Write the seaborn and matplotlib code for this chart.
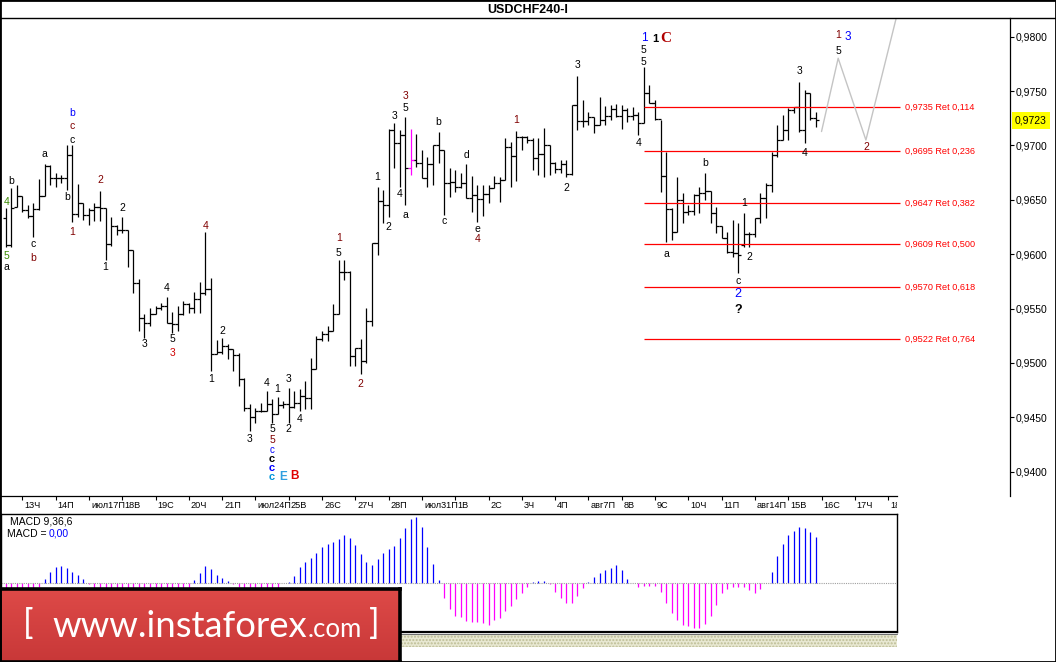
import numpy as np
import matplotlib
matplotlib.use('Agg')
import matplotlib.pyplot as plt
import matplotlib.transforms as mtransforms
from matplotlib.patches import Rectangle
from matplotlib.lines import Line2D
from matplotlib.colors import LinearSegmentedColormap
import seaborn as sns

sns.set_theme(style='white')
plt.rcParams['font.family'] = ['Liberation Sans', 'DejaVu Sans']
plt.rcParams['axes.unicode_minus'] = False

# ---------------- data ----------------
high = [
0.96425, 0.96609, 0.96636, 0.96535, 0.96452, 0.96471, 0.96692, 0.96830, 0.96820, 0.96747,
0.96728, 0.97004, 0.97004, 0.96646, 0.96471, 0.96425, 0.96471, 0.96581, 0.96425, 0.96342,
0.96268, 0.96342, 0.96223, 0.96038, 0.95772, 0.95450, 0.95505, 0.95524, 0.95551, 0.95606,
0.95469, 0.95524, 0.95570, 0.95551, 0.95652, 0.95744, 0.96204, 0.95781, 0.95212, 0.95230,
0.95175, 0.95129, 0.95092, 0.94862, 0.94623, 0.94587, 0.94633, 0.94743, 0.94669, 0.94688,
0.94651, 0.94770, 0.94743, 0.94761, 0.94835, 0.95046, 0.95248, 0.95294, 0.95340, 0.95542,
0.95946, 0.95946, 0.95845, 0.95138, 0.95221, 0.95505, 0.96103, 0.96618, 0.96590, 0.97151,
0.97206, 0.97142, 0.97262, 0.97151, 0.97105, 0.96958, 0.96894, 0.97004, 0.97124, 0.96958,
0.96793, 0.96774, 0.96747, 0.96830, 0.96719, 0.96636, 0.96636, 0.96636, 0.96719, 0.96710,
0.97068, 0.97032, 0.97133, 0.97087, 0.97087, 0.97068, 0.97068, 0.97160, 0.97004, 0.96848,
0.96866, 0.96866, 0.97372, 0.97639, 0.97418, 0.97308, 0.97262, 0.97446, 0.97363, 0.97372,
0.97381, 0.97372, 0.97344, 0.97354, 0.97308, 0.97721, 0.97556, 0.97418, 0.97234, 0.96940,
0.96425, 0.96710, 0.96563, 0.96452, 0.96554, 0.96618, 0.96747, 0.96581, 0.96434, 0.96259,
0.96204, 0.96314, 0.96287, 0.96379, 0.96204, 0.96333, 0.96563, 0.96655, 0.96940, 0.97188,
0.97280, 0.97344, 0.97354, 0.97584, 0.97510, 0.97482, 0.97308]

low = [
0.96066, 0.96066, 0.96434, 0.96388, 0.96333, 0.96158, 0.96406, 0.96535, 0.96636, 0.96618,
0.96655, 0.96590, 0.96296, 0.96342, 0.96314, 0.96268, 0.96305, 0.96305, 0.95946, 0.96075,
0.96176, 0.96195, 0.95882, 0.95643, 0.95294, 0.95230, 0.95340, 0.95450, 0.95487, 0.95368,
0.95276, 0.95294, 0.95441, 0.95460, 0.95460, 0.95460, 0.95625, 0.94927, 0.95083, 0.95083,
0.95037, 0.94927, 0.94789, 0.94559, 0.94375, 0.94449, 0.94550, 0.94559, 0.94449, 0.94532,
0.94587, 0.94449, 0.94587, 0.94559, 0.94577, 0.94577, 0.94945, 0.95202, 0.95202, 0.95294,
0.95450, 0.95762, 0.94973, 0.94973, 0.94899, 0.95000, 0.95340, 0.95992, 0.96287, 0.96342,
0.96793, 0.96618, 0.96452, 0.96728, 0.96802, 0.96701, 0.96618, 0.96636, 0.96839, 0.96360,
0.96526, 0.96572, 0.96609, 0.96517, 0.96388, 0.96296, 0.96351, 0.96471, 0.96609, 0.96480,
0.96682, 0.96618, 0.96673, 0.96958, 0.97022, 0.96774, 0.96728, 0.96710, 0.96728, 0.96747,
0.96747, 0.96710, 0.96728, 0.97142, 0.97170, 0.97188, 0.97114, 0.97188, 0.97188, 0.97234,
0.97262, 0.97151, 0.97216, 0.97234, 0.97096, 0.97206, 0.97390, 0.97234, 0.96572, 0.96112,
0.96130, 0.96204, 0.96287, 0.96360, 0.96360, 0.96379, 0.96498, 0.96287, 0.96195, 0.96149,
0.96011, 0.95974, 0.95827, 0.96066, 0.96066, 0.96158, 0.96287, 0.96333, 0.96572, 0.96894,
0.97050, 0.97050, 0.97298, 0.97124, 0.97022, 0.97234, 0.97170]

open_ = [
0.96333, 0.96084, 0.96434, 0.96535, 0.96406, 0.96351, 0.96416, 0.96535, 0.96811, 0.96701,
0.96701, 0.96701, 0.96912, 0.96370, 0.96471, 0.96360, 0.96406, 0.96434, 0.96425, 0.96094,
0.96259, 0.96223, 0.96223, 0.96038, 0.95735, 0.95414, 0.95368, 0.95450, 0.95505, 0.95524,
0.95368, 0.95359, 0.95450, 0.95542, 0.95505, 0.95588, 0.95643, 0.95680, 0.95083, 0.95101,
0.95156, 0.95129, 0.95074, 0.94853, 0.94587, 0.94504, 0.94559, 0.94559, 0.94623, 0.94532,
0.94614, 0.94623, 0.94596, 0.94633, 0.94697, 0.94679, 0.94945, 0.95221, 0.95267, 0.95294,
0.95450, 0.95836, 0.95836, 0.95065, 0.95138, 0.95019, 0.95386, 0.96103, 0.96489, 0.96452,
0.97142, 0.97022, 0.97096, 0.96793, 0.96866, 0.96839, 0.96701, 0.96830, 0.97004, 0.96958,
0.96655, 0.96664, 0.96618, 0.96655, 0.96517, 0.96544, 0.96508, 0.96554, 0.96609, 0.96655,
0.96682, 0.96986, 0.96903, 0.97078, 0.97078, 0.97050, 0.96885, 0.96922, 0.97004, 0.96839,
0.96784, 0.96830, 0.96738, 0.97372, 0.97225, 0.97225, 0.97262, 0.97188, 0.97234, 0.97271,
0.97335, 0.97271, 0.97326, 0.97271, 0.97280, 0.97206, 0.97482, 0.97390, 0.97243, 0.96719,
0.96416, 0.96204, 0.96498, 0.96388, 0.96397, 0.96544, 0.96563, 0.96581, 0.96379, 0.96259,
0.96149, 0.96020, 0.96011, 0.96084, 0.96186, 0.96186, 0.96333, 0.96517, 0.96636, 0.96912,
0.97050, 0.97142, 0.97326, 0.97354, 0.97142, 0.97482, 0.97252]

close = [
0.96084, 0.96425, 0.96535, 0.96406, 0.96351, 0.96416, 0.96535, 0.96811, 0.96701, 0.96701,
0.96701, 0.96912, 0.96370, 0.96471, 0.96360, 0.96406, 0.96434, 0.96425, 0.96094, 0.96259,
0.96223, 0.96223, 0.96038, 0.95735, 0.95414, 0.95368, 0.95450, 0.95505, 0.95524, 0.95368,
0.95359, 0.95450, 0.95542, 0.95505, 0.95588, 0.95643, 0.95680, 0.95083, 0.95101, 0.95156,
0.95129, 0.95074, 0.94853, 0.94587, 0.94504, 0.94559, 0.94559, 0.94623, 0.94532, 0.94614,
0.94623, 0.94596, 0.94633, 0.94697, 0.94679, 0.94945, 0.95221, 0.95267, 0.95294, 0.95450,
0.95836, 0.95836, 0.95065, 0.95138, 0.95019, 0.95386, 0.96103, 0.96489, 0.96452, 0.97142,
0.97022, 0.97096, 0.96793, 0.96866, 0.96839, 0.96701, 0.96830, 0.97004, 0.96958, 0.96655,
0.96664, 0.96618, 0.96655, 0.96517, 0.96544, 0.96508, 0.96554, 0.96609, 0.96655, 0.96682,
0.96986, 0.96903, 0.97078, 0.97078, 0.97050, 0.96885, 0.96922, 0.97004, 0.96839, 0.96784,
0.96830, 0.96738, 0.97372, 0.97225, 0.97225, 0.97262, 0.97188, 0.97234, 0.97271, 0.97335,
0.97271, 0.97326, 0.97271, 0.97280, 0.97206, 0.97482, 0.97390, 0.97243, 0.96719, 0.96416,
0.96204, 0.96498, 0.96388, 0.96397, 0.96544, 0.96563, 0.96581, 0.96379, 0.96259, 0.96149,
0.96020, 0.96011, 0.95992, 0.96186, 0.96186, 0.96333, 0.96517, 0.96636, 0.96912, 0.97050,
0.97142, 0.97326, 0.97354, 0.97142, 0.97482, 0.97252, 0.97234]

macd = [
-0.00050, -0.00050, -0.00045, -0.00040, -0.00035, -0.00030, -0.00017, 0.00022, 0.00058, 0.00083,
0.00087, 0.00078, 0.00058, 0.00042, 0.00022, -0.00005, -0.00030, -0.00040, -0.00060, -0.00070,
-0.00080, -0.00080, -0.00090, -0.00110, -0.00130, -0.00140, -0.00140, -0.00130, -0.00120, -0.00110,
-0.00100, -0.00080, -0.00060, -0.00025, 0.00017, 0.00053, 0.00087, 0.00072, 0.00042, 0.00025,
0.00012, -0.00005, -0.00017, -0.00040, -0.00060, -0.00070, -0.00070, -0.00060, -0.00050, -0.00025,
0.00002, 0.00008, 0.00037, 0.00080, 0.00108, 0.00125, 0.00153, 0.00183, 0.00197, 0.00205,
0.00220, 0.00242, 0.00228, 0.00192, 0.00147, 0.00108, 0.00092, 0.00122, 0.00153, 0.00170,
0.00187, 0.00225, 0.00278, 0.00320, 0.00333, 0.00283, 0.00180, 0.00097, 0.00017, -0.00075,
-0.00130, -0.00162, -0.00167, -0.00188, -0.00192, -0.00192, -0.00197, -0.00207, -0.00183, -0.00175,
-0.00137, -0.00113, -0.00080, -0.00047, -0.00020, 0.00005, 0.00013, 0.00013, -0.00003, -0.00042,
-0.00072, -0.00097, -0.00097, -0.00062, -0.00022, 0.00005, 0.00030, 0.00053, 0.00067, 0.00077,
0.00092, 0.00067, 0.00022, 0.00000, -0.00017, -0.00012, -0.00012, -0.00013, -0.00042, -0.00097,
-0.00150, -0.00183, -0.00208, -0.00212, -0.00222, -0.00222, -0.00203, -0.00163, -0.00108, -0.00047,
-0.00027, -0.00018, -0.00018, -0.00017, -0.00032, -0.00047, -0.00027, 0.00002, 0.00058, 0.00137,
0.00197, 0.00242, 0.00263, 0.00280, 0.00277, 0.00258, 0.00232]

day_labels = ['13Ч', '14П', 'июл17П', '18В', '19С', '20Ч', '21П', 'июл24П', '25В', '26С',
              '27Ч', '28П', 'июл31П', '1В', '2С', '3Ч', '4П', 'авг7П', '8В', '9С',
              '10Ч', '11П', 'авг14П', '15В', '16С', '17Ч', '18П']
price_ticks = [0.9400, 0.9450, 0.9500, 0.9550, 0.9600, 0.9650, 0.9700, 0.9750, 0.9800]
fib_levels = [0.9735, 0.9695, 0.9647, 0.9609, 0.9570, 0.9522]
fib_ratios = [0.114, 0.236, 0.382, 0.500, 0.618, 0.764]
forecast_x = [147, 150, 155, 160.5]
forecast_y = [0.97128, 0.97802, 0.97050, 0.98180]
current_price = 0.9723
highlight_bar = 73
macd_params = 'MACD 9,36,6'

# ---------------- layout ----------------
W, H = 1056, 662
fig = plt.figure(figsize=(W / 100, H / 100), dpi=100)
fig.patch.set_facecolor('white')


def fx(px):
    return px / W


def fy(py):
    return 1 - py / H


n = len(high)
idx = np.arange(n)
X0, X1_MAIN, X1_SUB = -0.838, 180.96, 160.6

ax = fig.add_axes([fx(1), fy(496), fx(1010) - fx(1), fy(18) - fy(496)])
ax.set_facecolor('white')
ax.set_xlim(X0, X1_MAIN)
ax.set_ylim(0.937766, 0.981720)

bar_cols = ['#ff00ff' if i == highlight_bar else '#000000' for i in idx]
ax.vlines(idx, low, high, colors=bar_cols, lw=0.9)
ax.hlines(open_, idx - 0.55, idx, colors=bar_cols, lw=0.9)
ax.hlines(close, idx, idx + 0.55, colors=bar_cols, lw=0.9)

# Fibonacci retracement lines
fib_start = int(np.argmax(high))
fib_end = 161.1
ax.hlines(fib_levels, fib_start, fib_end, colors='#ff0000', lw=0.9)
for lv, rt in zip(fib_levels, fib_ratios):
    txt = f'{lv:.4f} Ret {rt:.3f}'.replace('.', ',')
    ax.text(fib_end + 0.9, lv, txt, color='#ff0000', fontsize=6.6, va='center', ha='left')

# forecast path
sns.lineplot(x=forecast_x, y=forecast_y, ax=ax, color='#c4c4c4', lw=1.0, sort=False, estimator=None)

for s in ['left', 'bottom', 'top']:
    ax.spines[s].set_visible(False)
ax.spines['right'].set_visible(True)
ax.spines['right'].set_color('black')
ax.spines['right'].set_linewidth(0.9)
ax.set_xticks([])
ax.yaxis.tick_right()
ax.set_yticks(price_ticks)
ax.set_yticklabels([f'{p:.4f}'.replace('.', ',') for p in price_ticks])
ax.tick_params(axis='y', right=True, left=False, direction='out', length=3, width=0.8,
               pad=1, labelsize=7.5, colors='black')
ax.set_xlabel('')
ax.set_ylabel('')
ax.grid(False)

ax.annotate(f'{current_price:.4f}'.replace('.', ','), xy=(1, current_price),
            xycoords=('axes fraction', 'data'), xytext=(3.6, 0), textcoords='offset points',
            va='center', ha='left', fontsize=7.5, color='black', annotation_clip=False,
            bbox=dict(boxstyle='square,pad=0.3', fc='#ffff00', ec='none'))

# ---------------- wave labels ----------------
K, DR, R, BL, GR, CY = '#000000', '#800000', '#d00000', '#0000ff', '#3a8a00', '#0095d9'


def lab(x, y, dx, dy, text, color, size=7.5, weight='normal', family=None):
    kw = dict(fontsize=size, color=color, fontweight=weight, ha='center', va='center')
    if family:
        kw['family'] = family
    ax.annotate(text, xy=(x, y), xytext=(dx * 0.72, -dy * 0.72), textcoords='offset points', **kw)


wave_labels = [
    (0, 'H', 1, -6, '4', GR), (0, 'L', 1, 9, '5', GR), (0, 'L', 1, 20, 'a', K),
    (1, 'H', 0, -7, 'b', K),
    (5, 'L', 0, 7, 'c', K), (5, 'L', 0, 21, 'b', DR),
    (7, 'H', 0, -10, 'a', K),
    (11, 'L', 0, 7, 'b', K),
    (12, 'H', 0, -5, 'c', K), (12, 'H', 0, -19, 'c', DR), (12, 'H', 0, -32, 'b', BL),
    (12, 'L', 0, 10, '1', DR),
    (17, 'H', 0, -11, '2', DR),
    (18, 'L', 0, 7, '1', K),
    (21, 'H', 0, -9, '2', K),
    (25, 'L', 0, 6, '3', K),
    (29, 'H', 0, -9, '4', K),
    (30, 'L', 0, 6, '5', K), (30, 'L', 0, 20, '3', R),
    (36, 'H', 0, -6, '4', DR),
    (37, 'L', 0, 8, '1', K),
    (39, 'H', 0, -7, '2', K),
    (44, 'L', 0, 8, '3', K),
    (47, 'H', 0, -8, '4', K),
    (48, 'L', 0, 6, '5', K), (48, 'L', 0, 17, '5', DR),
    (49, 'H', 0, -8, '1', K),
    (51, 'H', 0, -9, '3', K), (51, 'L', 0, 6, '2', K),
    (53, 'L', 0, 8, '4', K),
    (60, 'H', 0, -7, '5', K), (60, 'H', 0, -22, '1', DR),
    (64, 'L', 0, 10, '2', DR),
    (67, 'H', 0, -10, '1', K),
    (69, 'L', 0, 10, '2', K),
    (70, 'H', 0, -7, '3', K),
    (71, 'L', 0, 7, '4', K),
    (72, 'H', 0, -9, '5', K), (72, 'H', 0, -21, '3', DR), (72, 'L', 0, 10, 'a', K),
    (78, 'H', 0, -10, 'b', K),
    (79, 'L', 0, 6, 'c', K),
    (83, 'H', 0, -9, 'd', K),
    (85, 'L', 0, 7, 'e', K), (85, 'L', 0, 17, '4', DR),
    (92, 'H', 0, -11, '1', DR),
    (101, 'L', 0, 11, '2', K),
    (103, 'H', 0, -11, '3', K),
    (114, 'L', 0, 8, '4', K),
    (115, 'H', 0, -5, '5', K), (115, 'H', 0, -17, '5', K),
    (119, 'L', 0, 12, 'a', K),
    (126, 'H', 0, -10, 'b', K),
    (133, 'H', 0, -10, '1', K),
    (134, 'L', 0, 10, '2', K),
    (132, 'L', 0, 8, 'c', K),
    (143, 'H', 0, -11, '3', K),
    (144, 'L', 0, 10, '4', K),
]
for b, side, dx, dy, t, c in wave_labels:
    lab(b, high[b] if side == 'H' else low[b], dx, dy, t, c)

# special / emphasised labels
lab(48, low[48], 0, 27, 'c', BL, 7)
lab(48, low[48], 0, 36, 'c', K, 8, 'bold')
lab(48, low[48], 0, 45, 'c', BL, 8, 'bold')
lab(48, low[48], 0, 54, 'c', CY, 8, 'bold')
lab(48, low[48], 11, 54, 'E', '#2f9fe0', 8.5, 'bold')
lab(48, low[48], 22, 53, 'B', '#e00000', 8.5, 'bold')
lab(115, high[115], 0, -29, '1', BL, 8.5)
lab(115, high[115], 11, -28, '1', K, 8, 'bold')
lab(115, high[115], 22, -29, 'C', '#b00000', 11, 'bold', 'Liberation Serif')
lab(132, low[132], 0, 21, '2', BL, 9)
lab(132, low[132], 0, 37, '?', K, 9, 'bold')
# forecast labels
lab(forecast_x[1], forecast_y[1], 0, -7, '5', K)
lab(forecast_x[1], forecast_y[1], 0, -23, '1', DR)
lab(forecast_x[1], forecast_y[1], 10, -21, '3', BL, 8.5)
lab(forecast_x[2], forecast_y[2], 0, 7, '2', DR)

# ---------------- date strip ----------------
axd = fig.add_axes([fx(1), fy(514), fx(897) - fx(1), fy(496) - fy(514)])
axd.set_facecolor('white')
axd.set_xlim(X0, X1_SUB)
axd.set_ylim(0, 1)
day_idx = 3 + 6 * np.arange(len(day_labels))
for s in ['left', 'bottom', 'right']:
    axd.spines[s].set_visible(False)
axd.spines['top'].set_visible(True)
axd.spines['top'].set_color('black')
axd.spines['top'].set_linewidth(0.9)
axd.set_xticks(day_idx)
axd.set_yticks([])
axd.tick_params(axis='x', top=True, bottom=False, labeltop=False, labelbottom=False,
                direction='in', length=3, width=0.8, color='black')
trans = mtransforms.offset_copy(axd.get_xaxis_transform(), fig=fig, x=2, y=0, units='dots')
for d, l in zip(day_idx, day_labels):
    axd.text(d, 0.5, l, transform=trans, ha='left', va='center', fontsize=6.6,
             color='black', clip_on=True)

# ---------------- MACD panel ----------------
axm = fig.add_axes([fx(1), fy(632), fx(897) - fx(1), fy(514) - fy(632)])
axm.set_facecolor('white')
axm.set_xlim(X0, X1_SUB)
axm.set_ylim(-0.002433, 0.003467)
mcols = ['#0000ff' if v > 0 else '#ff00ff' for v in macd]
axm.vlines(idx, 0, macd, colors=mcols, lw=0.9)
axm.axhline(0, color='#a0a0a0', lw=0.8, ls=(0, (1, 1)))
axm.set_xticks([])
axm.set_yticks([])
for s in axm.spines.values():
    s.set_visible(True)
    s.set_color('black')
    s.set_linewidth(1.0)
axm.spines['bottom'].set_linewidth(1.6)
axm.grid(False)

fig.text(fx(10), fy(521), macd_params, fontsize=7.5, ha='left', va='center', color='black')
fig.text(fx(7), fy(534), 'MACD =', fontsize=7.5, ha='left', va='center', color='black')
fig.text(fx(49), fy(534), '0,00', fontsize=7.5, ha='left', va='center', color='#0000ff')

# hatched strip under MACD
fig.add_artist(Line2D([fx(1), fx(897)], [fy(634), fy(634)], color='#707070', lw=0.8))
fig.add_artist(Rectangle((fx(1), fy(647)), fx(897) - fx(1), fy(635) - fy(647),
                         transform=fig.transFigure, fc='#e8e8d2', ec='#bdbd95',
                         hatch='.....', lw=0))

# title bar
fig.add_artist(Line2D([0, 1], [fy(18), fy(18)], color='black', lw=1.0))
fig.text(fx(528), fy(10), 'USDCHF240-I', ha='center', va='center', fontsize=9,
         fontweight='bold', color='black')

# ---------------- logo ----------------
axl = fig.add_axes([0, 0, fx(400), fy(589)], zorder=10)
grad = np.linspace(0, 1, 64).reshape(-1, 1)
cmap = LinearSegmentedColormap.from_list('logo', ['#de4a48', '#c83838'])
axl.imshow(grad, extent=[0, 1, 0, 1], aspect='auto', cmap=cmap, origin='upper')
axl.set_xlim(0, 1)
axl.set_ylim(0, 1)
axl.set_xticks([])
axl.set_yticks([])
for s in axl.spines.values():
    s.set_visible(True)
    s.set_color('black')
    s.set_linewidth(2.6)

r = fig.canvas.get_renderer()
base = fy(637)
logo_font = dict(color='white', family=['Lato', 'Liberation Sans'], fontweight='normal',
                 va='baseline', ha='left', zorder=20)
fig.text(fx(23), base + 3 / H, '[', fontsize=25, **logo_font)
t1 = fig.text(fx(52), base, 'www.instaforex', fontsize=26.3, **logo_font)
bb1 = t1.get_window_extent(r)
t2 = fig.text(bb1.x1 / W + 1 / W, base, '.com', fontsize=18.5, **logo_font)
bb2 = t2.get_window_extent(r)
fig.text(bb2.x1 / W + 7 / W, base + 3 / H, ']', fontsize=25, **logo_font)

# figure border
fig.add_artist(Rectangle((0, 0), 1, 1, transform=fig.transFigure, fill=False,
                         ec='black', lw=2.0, zorder=30))

fig.savefig('out.png', dpi=100, facecolor='white')
